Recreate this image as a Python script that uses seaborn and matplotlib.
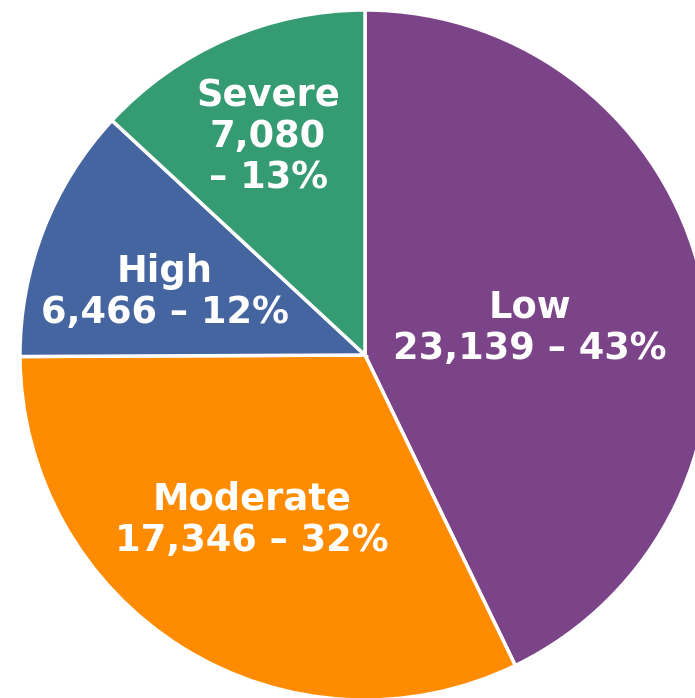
import numpy as np
import matplotlib
matplotlib.use("Agg")
import matplotlib.pyplot as plt
import seaborn as sns

sns.set_theme(style="white")
plt.rcParams['font.family'] = ['DejaVu Sans']

# data
categories = ['Low', 'Moderate', 'High', 'Severe']
counts = [23139, 17346, 6466, 7080]
percents = [43, 32, 12, 13]
colors = ['#7B4488', '#FF8C00', '#4565A0', '#359B73']
label_texts = ['Low\n23,139 \u2013 43%', 'Moderate\n17,346 \u2013 32%',
               'High\n6,466 \u2013 12%', 'Severe\n7,080\n\u2013 13%']
# label centre offsets from the pie centre, in units of the radius
label_dx = [0.478, -0.328, -0.58, -0.281]
label_dy = [0.078, -0.478, 0.183, 0.632]

fig = plt.figure(figsize=(6.95, 6.98), dpi=100)
ax = fig.add_axes([0, 0, 1, 1])

cx, cy, R = 365, 343, 345
wedges, _ = ax.pie(counts, colors=colors, startangle=90, counterclock=False,
                   radius=R, center=(cx, cy), explode=[0.012, 0, 0, 0],
                   wedgeprops=dict(edgecolor='white', linewidth=2.5))

ax.set_xlim(0, 695)
ax.set_ylim(0, 698)
ax.set_aspect('equal')
ax.axis('off')

for txt, dx, dy in zip(label_texts, label_dx, label_dy):
    ax.text(cx + dx * R, cy + dy * R, txt, ha='center', va='center', color='white',
            fontsize=26.5, fontweight='bold', linespacing=1.15)

fig.savefig('out.png', dpi=100)
